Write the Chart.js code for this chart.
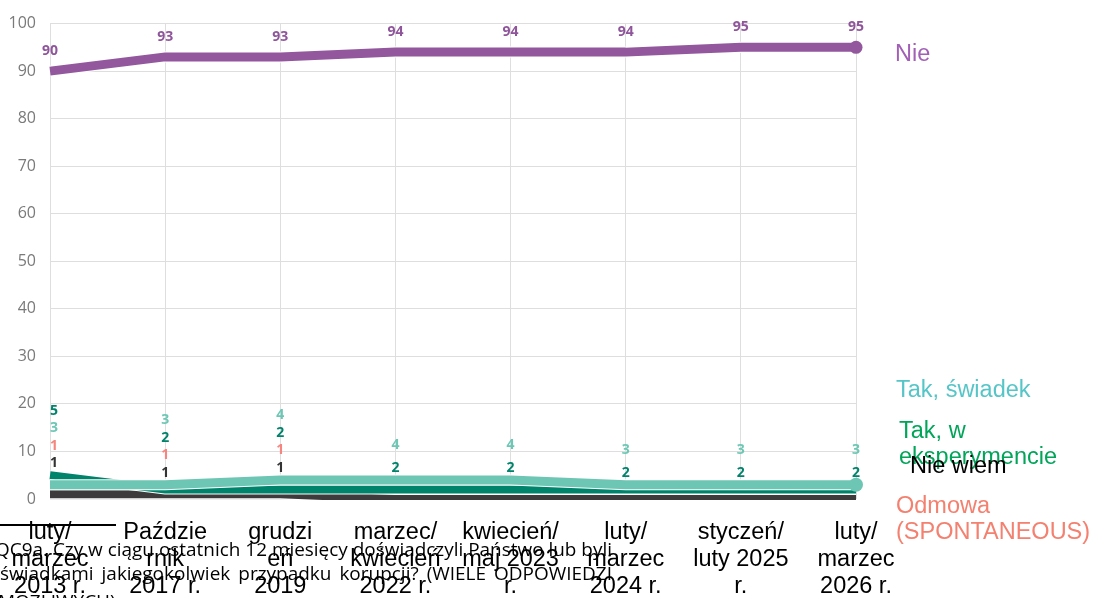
<!DOCTYPE html>
<html>
<head>
<meta charset="utf-8">
<script src="https://cdn.jsdelivr.net/npm/chart.js@4"></script>
<style>
  html, body { margin: 0; padding: 0; background: #fff; }
  canvas { display: block; }
</style>
</head>
<body>
<canvas id="chart" width="1093" height="598"></canvas>
<script>
// survey waves (x axis, already wrapped as in the source)
const waves = [
  ["luty/", "marzec", "2013 r."],
  ["Paździe", "rnik", "2017 r."],
  ["grudzi", "eń", "2019"],
  ["marzec/", "kwiecień", "2022 r."],
  ["kwiecień/", "maj 2023", "r."],
  ["luty/", "marzec", "2024 r."],
  ["styczeń/", "luty 2025", "r."],
  ["luty/", "marzec", "2026 r."],
];

const seriesNames = ["Nie", "Tak, świadek", "Tak, w eksperymencie", "Nie wiem", "Odmowa (SPONTANEOUS)"];

const nie = [90, 93, 93, 94, 94, 94, 95, 95];
const takSwiadek = [3, 3, 4, 4, 4, 3, 3, 3];
const takEksperyment = [5, 2, 2, 2, 2, 2, 2, 2];
const nieWiem = [1, 1, 1, 0, 0, 0, 0, 0];
const odmowa = [1, 1, 1, 0, 0, 0, 0, 0];

const footnote = [
  "QC9a. Czy w ciągu ostatnich 12 miesięcy doświadczyli Państwo lub byli",
  "świadkami jakiegokolwiek przypadku korupcji? (WIELE ODPOWIEDZI",
  "MOŻLIWYCH)",
];

const lastOnly = (r) => waves.map((w, i) => (i === waves.length - 1 ? r : 0));

// white edge under every line, like the source's separated bands
const whiteEdge = {
  id: "whiteEdge",
  beforeDatasetDraw(chart, args) {
    const ctx = chart.ctx;
    const area = chart.chartArea;
    const ds = chart.data.datasets[args.index];
    ctx.save();
    ctx.beginPath();
    ctx.rect(area.left - 10, area.top - 10, area.right - area.left + 20, area.bottom - area.top + 11);
    ctx.clip();
    ctx.beginPath();
    args.meta.data.forEach((p, j) => (j ? ctx.lineTo(p.x, p.y) : ctx.moveTo(p.x, p.y)));
    ctx.strokeStyle = "#fff";
    ctx.lineWidth = ds.borderWidth + 2;
    ctx.stroke();
    ctx.restore();
  },
};

const valueLabels = {
  id: "valueLabels",
  afterDatasetsDraw(chart) {
    const ctx = chart.ctx;
    const y = chart.scales.y;
    ctx.save();
    ctx.textAlign = "center";
    ctx.textBaseline = "middle";
    ctx.font = "bold 14px 'Open Sans'";

    const top = chart.data.datasets[0];
    chart.getDatasetMeta(0).data.forEach((p, i) => {
      ctx.fillStyle = top.labelColor;
      ctx.fillText(top.data[i], p.x, p.y - 20);
    });

    // small series: labels stacked above the highest of them
    const group = [3, 4, 2, 1];
    waves.forEach((w, i) => {
      const items = group
        .map((d) => ({ d, v: chart.data.datasets[d].data[i] }))
        .filter((it) => it.v > 0)
        .sort((a, b) => a.v - b.v);
      const maxV = Math.max(...items.map((it) => it.v));
      const gap = 17.5 + (4 - items.length) * 2.5;
      const x = chart.getDatasetMeta(1).data[i].x + (i === 0 ? 4 : 0);
      let ly = y.getPixelForValue(maxV) - 12;
      items.forEach((it) => {
        ctx.fillStyle = chart.data.datasets[it.d].labelColor;
        ctx.fillText(Math.round(it.v), x, ly);
        ly -= gap;
      });
    });
    ctx.restore();
  },
};

const sideNotes = {
  id: "sideNotes",
  afterDraw(chart) {
    const ctx = chart.ctx;
    const notes = [
      { d: 0, color: "#a25fb6", x: 895, y: 55 },
      { d: 1, color: "#55c5c8", x: 896, y: 391 },
      { d: 2, color: "#00a55a", x: 899, y: 432 },
      { d: 3, color: "#000", x: 910, y: 467 },
      { d: 4, color: "#f4806f", x: 896, y: 507 },
    ];
    ctx.save();
    ctx.font = "23.5px 'Liberation Sans', Arial";
    ctx.textBaseline = "middle";
    ctx.textAlign = "left";
    notes.forEach((n) => {
      const words = chart.data.datasets[n.d].label.split(" ");
      const lines = [];
      let cur = "";
      words.forEach((wd) => {
        const test = cur ? cur + " " + wd : wd;
        if (cur && ctx.measureText(test).width > 1093 - n.x) {
          lines.push(cur);
          cur = wd;
        } else cur = test;
      });
      lines.push(cur);
      ctx.fillStyle = n.color;
      lines.forEach((l, k) => ctx.fillText(l, n.x, n.y + k * 26));
    });
    ctx.restore();
  },
};

const footnotePlugin = {
  id: "footnote",
  afterDraw(chart) {
    const ctx = chart.ctx;
    ctx.save();
    ctx.strokeStyle = "#000";
    ctx.lineWidth = 2;
    ctx.beginPath();
    ctx.moveTo(0, 525);
    ctx.lineTo(116, 525);
    ctx.stroke();

    ctx.fillStyle = "#000";
    ctx.font = "19px 'Open Sans'";
    ctx.textBaseline = "alphabetic";
    ctx.fillText(footnote[0], -5, 556, 617);
    // second line is justified
    const words = footnote[1].split(" ");
    const total = words.reduce((s, wd) => s + ctx.measureText(wd).width, 0);
    const width = 612;
    let scale = 1;
    if (total > width - 40) scale = (width - 40) / total;
    const space = (width - total * scale) / (words.length - 1);
    let x = 0;
    words.forEach((wd) => {
      const ww = ctx.measureText(wd).width * scale;
      ctx.fillText(wd, x, 580, ww);
      x += ww + space;
    });
    ctx.fillText(footnote[2], -2, 608);
    ctx.restore();
  },
};

new Chart(document.getElementById("chart"), {
  type: "line",
  data: {
    labels: waves,
    datasets: [
      {
        label: seriesNames[0],
        data: nie,
        borderColor: "#92579d",
        backgroundColor: "#92579d",
        labelColor: "#8f559b",
        borderWidth: 9,
        pointRadius: lastOnly(6.5),
        pointBorderWidth: 0,
      },
      {
        label: seriesNames[1],
        data: takSwiadek,
        borderColor: "#6dc6b3",
        backgroundColor: "#6dc6b3",
        labelColor: "#6cc7b4",
        borderWidth: 9,
        pointRadius: lastOnly(7),
        pointBorderWidth: 0,
      },
      {
        label: seriesNames[2],
        data: takEksperyment,
        borderColor: "#00836b",
        backgroundColor: "#00836b",
        labelColor: "#00836b",
        borderWidth: 8,
        pointRadius: 0,
      },
      {
        label: seriesNames[3],
        data: nieWiem,
        borderColor: "#3d3b3c",
        backgroundColor: "#3d3b3c",
        labelColor: "#333",
        borderWidth: 8,
        pointRadius: 0,
      },
      {
        label: seriesNames[4],
        data: odmowa,
        borderColor: "#f5857e",
        backgroundColor: "#f5857e",
        labelColor: "#f5857e",
        borderWidth: 8,
        pointRadius: 0,
      },
    ].map((d) => ({ ...d, tension: 0, fill: false, clip: { left: 10, top: 10, right: 10, bottom: 1 } })),
  },
  options: {
    responsive: false,
    animation: false,
    devicePixelRatio: 1,
    layout: { padding: { top: 23, right: 237, left: 0, bottom: 0 } },
    plugins: { legend: { display: false }, tooltip: { enabled: false } },
    scales: {
      x: {
        grid: { color: "#dedede", drawTicks: false },
        border: { display: false },
        ticks: {
          color: "#000",
          font: { family: "'Liberation Sans', Arial", size: 23.5, lineHeight: 1.15 },
          padding: 20,
          maxRotation: 0,
          autoSkip: false,
        },
        afterFit(s) {
          s.height = 99;
          s.paddingLeft = 0;
          s.paddingRight = 0;
        },
      },
      y: {
        min: 0,
        max: 100,
        grid: { color: "#dedede", drawTicks: false },
        border: { display: false },
        ticks: {
          stepSize: 10,
          color: "#7a7a7a",
          font: { family: "'Open Sans'", size: 16 },
          padding: 14,
        },
        afterFit(s) {
          s.width = 50;
        },
      },
    },
  },
  plugins: [whiteEdge, valueLabels, sideNotes, footnotePlugin],
});
</script>
</body>
</html>
